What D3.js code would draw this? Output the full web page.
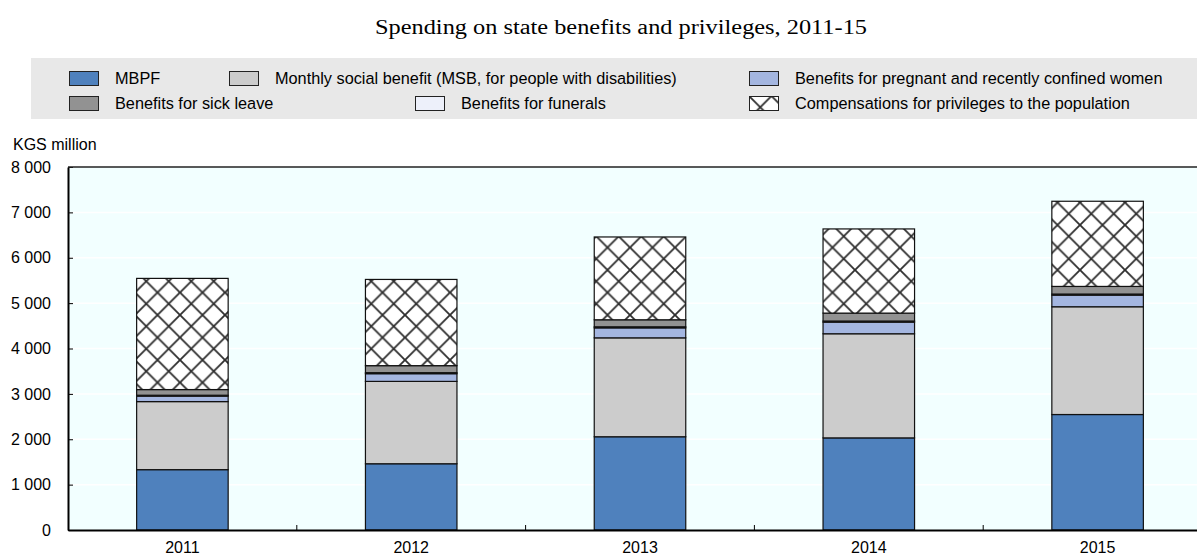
<!DOCTYPE html>
<html>
<head>
<meta charset="utf-8">
<script src="https://cdn.jsdelivr.net/npm/d3@7"></script>
<style>
  body { margin: 0; background: #fff; overflow: hidden; }
  text { font-family: "Liberation Sans", Arial, sans-serif; }
</style>
</head>
<body>
<script>
// chart data (KGS million)
const years = ["2011", "2012", "2013", "2014", "2015"];
const mbpf = [1330, 1460, 2055, 2030, 2545];
const msb = [1500, 1815, 2180, 2295, 2375];
const pregnant = [120, 170, 220, 255, 255];
const funerals = [20, 22, 23, 25, 25];
const sickLeave = [125, 155, 155, 175, 168];
const compensations = [2450, 1900, 1825, 1855, 1877];
const yTicks = [0, 1000, 2000, 3000, 4000, 5000, 6000, 7000, 8000];

const series = [
  {key: "mbpf", name: "MBPF", values: mbpf, fill: "#4f81bd"},
  {key: "msb", name: "Monthly social benefit (MSB, for people with disabilities)", values: msb, fill: "#cccccc"},
  {key: "pregnant", name: "Benefits for pregnant and recently confined women", values: pregnant, fill: "#a4b6e0"},
  {key: "funerals", name: "Benefits for funerals", values: funerals, fill: "#edf0fa"},
  {key: "sick", name: "Benefits for sick leave", values: sickLeave, fill: "#929292"},
  {key: "comp", name: "Compensations for privileges to the population", values: compensations, fill: "url(#hatch)"}
];

const w = 1197, h = 556;
const plotLeft = 68, plotRight = 1212, plotTop = 167, plotBottom = 530;

const svg = d3.select("body").append("svg")
  .attr("width", w)
  .attr("height", h);

// crosshatch pattern for the compensations
const defs = svg.append("defs");
const pat = defs.append("pattern")
  .attr("id", "hatch")
  .attr("patternUnits", "userSpaceOnUse")
  .attr("width", 22.5)
  .attr("height", 22.5);
pat.append("rect").attr("width", 22.5).attr("height", 22.5).attr("fill", "#fff");
pat.append("path")
  .attr("d", "M0,0L22.5,22.5M22.5,0L0,22.5")
  .attr("stroke", "#2e2e2e")
  .attr("stroke-width", 1.8);

// title (stretched wide as in the original)
svg.append("text")
  .attr("x", 621)
  .attr("y", 34)
  .attr("text-anchor", "middle")
  .attr("textLength", 492)
  .attr("lengthAdjust", "spacingAndGlyphs")
  .style("font-family", "'Liberation Serif', 'Times New Roman', serif")
  .style("font-size", "20px")
  .text("Spending on state benefits and privileges, 2011-15");

// legend
const legendOrder = [
  {s: 0, x: 69, y: 71}, {s: 1, x: 229, y: 71}, {s: 2, x: 749, y: 71},
  {s: 4, x: 69, y: 96}, {s: 3, x: 415, y: 96}, {s: 5, x: 749, y: 96}
];
svg.append("rect")
  .attr("x", 31).attr("y", 58)
  .attr("width", w - 31).attr("height", 61)
  .attr("fill", "#e8e8e8");

const leg = svg.append("g").selectAll("g")
  .data(legendOrder)
  .enter()
  .append("g")
  .attr("transform", (d) => "translate(" + d.x + "," + d.y + ")");
leg.append("rect")
  .attr("x", 0.5).attr("y", 0.5)
  .attr("width", 29).attr("height", 14)
  .attr("fill", (d) => series[d.s].fill)
  .attr("stroke", "#222")
  .attr("stroke-width", 1);
leg.append("text")
  .attr("x", 46)
  .attr("y", 13)
  .style("font-size", "16.3px")
  .text((d) => series[d.s].name);

// scales
const x = d3.scaleBand()
  .domain(years)
  .range([plotLeft, plotRight])
  .paddingInner(0.6)
  .paddingOuter(0.3);

const y = d3.scaleLinear()
  .domain([0, 8000])
  .range([plotBottom, plotTop]);

// plot background and gridlines
svg.append("rect")
  .attr("x", plotLeft).attr("y", plotTop)
  .attr("width", plotRight - plotLeft).attr("height", plotBottom - plotTop)
  .attr("fill", "#f2ffff");

svg.append("g")
  .selectAll("line")
  .data(yTicks.slice(1, -1))
  .enter()
  .append("line")
  .attr("x1", plotLeft).attr("x2", plotRight)
  .attr("y1", (d) => y(d)).attr("y2", (d) => y(d))
  .attr("stroke", "#fff")
  .attr("stroke-width", 1.5);

// stacked bars
const table = years.map((yr, i) => {
  const row = {year: yr};
  series.forEach((s) => { row[s.key] = s.values[i]; });
  return row;
});
const stack = d3.stack().keys(series.map((s) => s.key));
const layers = stack(table);

svg.append("g")
  .selectAll("g")
  .data(layers)
  .enter()
  .append("g")
  .attr("fill", (d, i) => series[i].fill)
  .selectAll("rect")
  .data((d) => d)
  .enter()
  .append("rect")
  .attr("x", (d) => x(d.data.year))
  .attr("width", x.bandwidth())
  .attr("y", (d) => y(d[1]))
  .attr("height", (d) => y(d[0]) - y(d[1]))
  .attr("stroke", "#111")
  .attr("stroke-width", 1.2);

// y axis
const yAxis = d3.axisLeft(y)
  .tickValues(yTicks)
  .tickSize(0)
  .tickPadding(17)
  .tickFormat((d) => d3.format(",")(d).replace(/,/g, " "));
const gy = svg.append("g")
  .attr("transform", "translate(" + plotLeft + ",0)")
  .call(yAxis);
gy.select(".domain").attr("stroke", "#000").attr("stroke-width", 2);
gy.selectAll("text").style("font-size", "16px").attr("fill", "#000");
gy.selectAll(".tick").append("line")
  .attr("x1", 0).attr("x2", 5)
  .attr("stroke", "#000");

// top frame line
svg.append("line")
  .attr("x1", plotLeft).attr("x2", plotRight)
  .attr("y1", plotTop).attr("y2", plotTop)
  .attr("stroke", "#222")
  .attr("stroke-width", 1.5);

// x axis
const xAxis = d3.axisBottom(x).tickSize(0).tickPadding(12);
const gx = svg.append("g")
  .attr("transform", "translate(0," + plotBottom + ")")
  .call(xAxis);
gx.select(".domain").attr("stroke", "#000").attr("stroke-width", 2);
gx.selectAll("text").style("font-size", "16px").attr("fill", "#000");

// category separator ticks
svg.append("g")
  .selectAll("line")
  .data(years.slice(1))
  .enter()
  .append("line")
  .attr("x1", (d) => x(d) - x.step() * x.paddingInner() / 2)
  .attr("x2", (d) => x(d) - x.step() * x.paddingInner() / 2)
  .attr("y1", plotBottom).attr("y2", plotBottom - 5)
  .attr("stroke", "#000");

// axis unit label
svg.append("text")
  .attr("x", 13)
  .attr("y", 150)
  .style("font-size", "16px")
  .text("KGS million");
</script>
</body>
</html>
